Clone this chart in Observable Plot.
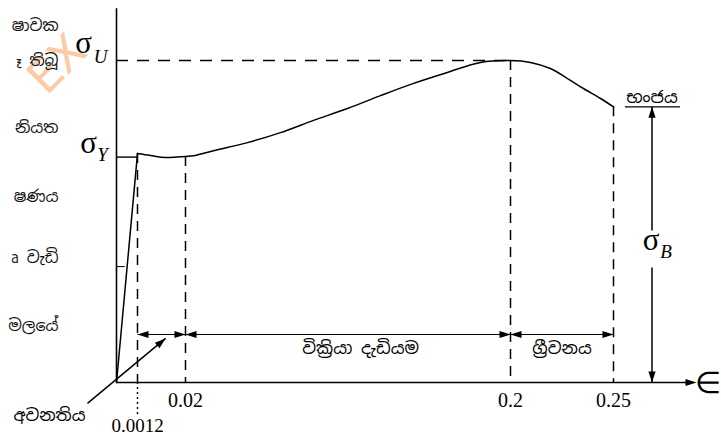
<!DOCTYPE html>
<html><head><meta charset="utf-8">
<script src="https://cdn.jsdelivr.net/npm/d3@7"></script>
<script src="https://cdn.jsdelivr.net/npm/@observablehq/plot@0.6"></script>
<style>html,body{margin:0;padding:0;background:#fff}svg{display:block}</style>
</head><body><div id="chart"></div>
<script>
// ---- data (strain ε, stress σ in units of σU) ----
const strainTicks = [0.0012, 0.02, 0.2, 0.25];
const strainTickLabels = ["0.0012", "0.02", "0.2", "0.25"];
const elasticStrain = [0, 0.0012];
const elasticStress = [0, 0.711];
const plasticStrain = [0.0012, 0.0063, 0.0122, 0.02, 0.0244, 0.0355, 0.0543, 0.0726, 0.0909, 0.1097, 0.128, 0.1463, 0.1651, 0.1834, 0.2, 0.2097, 0.2194, 0.2277, 0.2354, 0.2437, 0.25];
const plasticStress = [0.711, 0.705, 0.699, 0.702, 0.704, 0.72, 0.745, 0.776, 0.814, 0.851, 0.891, 0.929, 0.963, 0.994, 1.0, 0.994, 0.975, 0.944, 0.913, 0.882, 0.856];
const sigmaU = 1.0, sigmaY = 0.70, sigmaB = 0.856, minorTick = 0.36;
const dropStress = [0.711, 0.702, 1.0, 0.856];       // where each dashed guide leaves the curve
const regionBounds = [[0.0012, 0.02], [0.02, 0.2], [0.2, 0.25]];
const regionLabels = ["", "වික්‍රියා දැඩියම", "ග්‍රීවනය"];
const regionLabelX = [0.011, 0.117, 0.225];
const dimStress = 0.149;
const fractureStrain = 0.27;
const fractureLabel = "භංජය";
const yieldLabel = "අවනතිය";
const axisEnd = 0.29, axisTop = 1.161;
const sideFragments = ["ෂාවක", "\u00A0ෑ තිබූ", "නියත", "ෂණය", "\u00A0ෘ වැඩි", "මලයේ"];
const sideFragmentStress = [1.109, 0.999, 0.792, 0.578, 0.388, 0.177];

// non-linear (schematic) strain axis
const xScale = {type: "linear", domain: [0, 0.0012, 0.02, 0.2, 0.25, 0.29], range: [116, 137, 185, 510, 613, 690]};
const yScale = {type: "linear", domain: [0, 1], range: [382, 60]};

const head = {draw(ctx) { const L = 11, W = 3.6; ctx.moveTo(0, 0); ctx.lineTo(-W, L); ctx.lineTo(W, L); ctx.closePath(); }};
const serif = "'Liberation Serif','Times New Roman',serif";
const sinhala = "'Noto Sans Sinhala','Iskoola Pota','Noto Sans',sans-serif";

const elastic = elasticStrain.map((x, i) => ({x, y: elasticStress[i]}));
const plastic = plasticStrain.map((x, i) => ({x, y: plasticStress[i]}));
const guides = strainTicks.map((x, i) => ({x, top: dropStress[i], label: strainTickLabels[i]}));
const regions = regionBounds.map((b, i) => ({a: b[0], b: b[1], label: regionLabels[i], lx: regionLabelX[i]}));

const chart = Plot.plot({
  width: 721, height: 435,
  marginTop: 0, marginRight: 0, marginBottom: 0, marginLeft: 0,
  x: {...xScale, axis: null},
  y: {...yScale, axis: null},
  style: {background: "#fff", overflow: "hidden"},
  marks: [
    // watermark
    Plot.text(["EX"], {frameAnchor: "top-left", dx: 46, dy: 96, rotate: -45, textAnchor: "start", lineAnchor: "bottom", fontSize: 46, fill: "#f7a866", fillOpacity: 0.6, fontFamily: "'DejaVu Sans',sans-serif"}),
    // neighbouring column fragments
    Plot.text(sideFragments, {frameAnchor: "left", y: sideFragmentStress, dx: 58, textAnchor: "end", fontSize: 16, fontFamily: sinhala, fill: "#111"}),
    // axes
    Plot.ruleX([0], {y1: 0, y2: axisTop, stroke: "black", strokeWidth: 1.6}),
    Plot.ruleY([0], {x1: 0, x2: axisEnd, stroke: "black", strokeWidth: 1.6}),
    Plot.dot([axisEnd], {x: d => d, y: 0, symbol: head, rotate: 90, fill: "black", stroke: "none", dx: 6}),
    Plot.text(["∈"], {x: [axisEnd], y: [0], dx: 17, dy: 1, fontSize: 30, fontFamily: serif}),
    // stress references
    Plot.ruleY([sigmaU], {x1: 0, x2: 0.2, stroke: "black", strokeWidth: 1.4, strokeDasharray: "12,9"}),
    Plot.ruleY([sigmaY], {x1: 0, x2: 0.0012, stroke: "black", strokeWidth: 1.4}),
    Plot.ruleY([minorTick], {x1: 0, x2: 0.0005, stroke: "black", strokeWidth: 1}),
    Plot.text(["σ"], {x: [0], y: [sigmaU], dx: -33, dy: -17, fontSize: 31, fontFamily: serif}),
    Plot.text(["U"], {x: [0], y: [sigmaU], dx: -16, dy: -4, fontSize: 19, fontStyle: "italic", fontFamily: serif}),
    Plot.text(["σ"], {x: [0], y: [sigmaY], dx: -28, dy: -14, fontSize: 31, fontFamily: serif}),
    Plot.text(["Y"], {x: [0], y: [sigmaY], dx: -14, dy: -2, fontSize: 19, fontStyle: "italic", fontFamily: serif}),
    // dashed guides
    Plot.ruleX(guides, {x: "x", y1: "top", y2: 0, stroke: "black", strokeWidth: 1.5, strokeDasharray: "10,7"}),
    Plot.ruleX([strainTicks[0]], {y1: 0, y2: -0.1, stroke: "black", strokeWidth: 1.4, strokeDasharray: "2,3"}),
    Plot.text(guides.slice(1), {x: "x", y: 0, text: "label", dy: 18, fontSize: 20, fontFamily: serif}),
    Plot.text(guides.slice(0, 1), {x: "x", y: 0, text: "label", dy: 43, fontSize: 19, fontFamily: serif}),
    // curve
    Plot.line(elastic, {x: "x", y: "y", stroke: "black", strokeWidth: 1.5}),
    Plot.line(plastic, {x: "x", y: "y", curve: "catmull-rom", stroke: "black", strokeWidth: 1.5}),
    // region dimension arrows
    Plot.link(regions, {x1: "a", x2: "b", y1: dimStress, y2: dimStress, stroke: "black", strokeWidth: 1}),
    Plot.dot(regions, {x: "a", y: dimStress, symbol: head, rotate: -90, fill: "black", stroke: "none"}),
    Plot.dot(regions, {x: "b", y: dimStress, symbol: head, rotate: 90, fill: "black", stroke: "none"}),
    Plot.text(regions, {x: "lx", y: dimStress, text: "label", dy: 14, fontSize: 17, fontFamily: sinhala}),
    // fracture stress arrow
    Plot.link([0], {x1: fractureStrain, x2: fractureStrain, y1: sigmaB, y2: 0.472, stroke: "black", strokeWidth: 1.5}),
    Plot.link([0], {x1: fractureStrain, x2: fractureStrain, y1: 0.357, y2: 0, stroke: "black", strokeWidth: 1.5}),
    Plot.dot([fractureStrain], {x: d => d, y: sigmaB, symbol: head, rotate: 0, fill: "black", stroke: "none"}),
    Plot.dot([fractureStrain], {x: d => d, y: 0, symbol: head, rotate: 180, fill: "black", stroke: "none"}),
    Plot.text(["σ"], {x: [fractureStrain], y: [0.42], dx: -1, dy: -7, fontSize: 31, fontFamily: serif}),
    Plot.text(["B"], {x: [fractureStrain], y: [0.42], dx: 14, dy: 5, fontSize: 19, fontStyle: "italic", fontFamily: serif}),
    Plot.text([fractureLabel], {x: [fractureStrain], y: [sigmaB], dy: -9, fontSize: 17, fontFamily: sinhala}),
    Plot.ruleY([sigmaB], {x1: 0.2562, x2: 0.2848, stroke: "black", strokeWidth: 1.4}),
    // yield-point pointer
    Plot.link([0], {x1: -0.00166, y1: -0.065, x2: 0.0122, y2: 0.137, stroke: "black", strokeWidth: 1.5}),
    Plot.dot([0.0122], {x: d => d, y: 0.137, symbol: head, rotate: 50, fill: "black", stroke: "none"}),
    Plot.text([yieldLabel], {x: [-0.00166], y: [-0.065], dx: -38, dy: 12, fontSize: 17, fontFamily: sinhala})
  ]
});
document.getElementById("chart").append(chart);
</script>
</body></html>
